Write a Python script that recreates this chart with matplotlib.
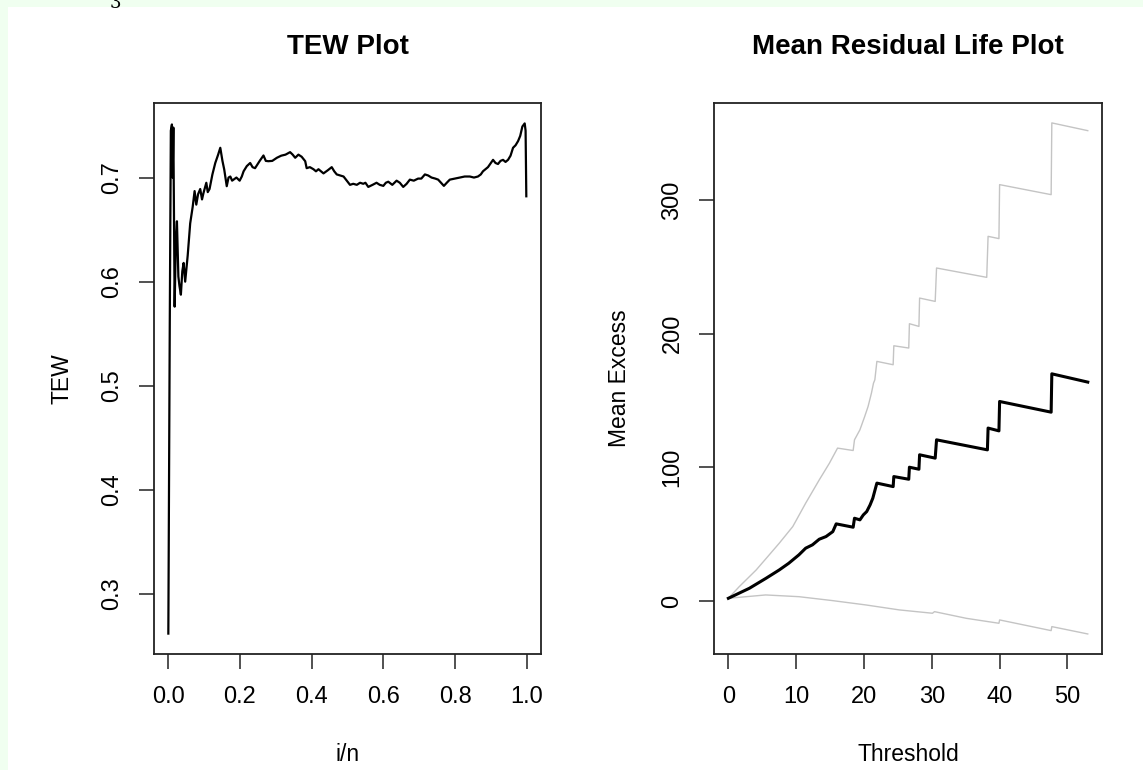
import numpy as np
import matplotlib
matplotlib.use("Agg")
import matplotlib.pyplot as plt
from matplotlib.patches import Rectangle

plt.rcParams['font.family'] = ['Liberation Sans', 'DejaVu Sans']

# TEW plot values
tew_x = [0.000, 0.004, 0.007, 0.010, 0.012, 0.014, 0.0176, 0.021, 0.024, 0.028, 0.031,
         0.035, 0.039, 0.0427, 0.047, 0.054, 0.061, 0.068, 0.0733, 0.078, 0.083, 0.089,
         0.094, 0.098, 0.106, 0.110, 0.115, 0.123, 0.131, 0.139, 0.145, 0.151, 0.156,
         0.163, 0.168, 0.173, 0.178, 0.182, 0.190, 0.199, 0.205, 0.210, 0.219, 0.2284,
         0.235, 0.242, 0.255, 0.2655, 0.272, 0.279, 0.290, 0.303, 0.315, 0.327, 0.3398,
         0.347, 0.354, 0.363, 0.372, 0.382, 0.386, 0.395, 0.405, 0.412, 0.419, 0.433,
         0.445, 0.456, 0.463, 0.470, 0.480, 0.489, 0.498, 0.507, 0.516, 0.526, 0.535,
         0.544, 0.550, 0.558, 0.570, 0.581, 0.590, 0.600, 0.607, 0.6138, 0.625, 0.637,
         0.646, 0.6555, 0.665, 0.674, 0.685, 0.697, 0.706, 0.716, 0.725, 0.7345, 0.745,
         0.753, 0.761, 0.769, 0.777, 0.7855, 0.800, 0.8134, 0.827, 0.8413, 0.853, 0.864,
         0.872, 0.878, 0.892, 0.9062, 0.913, 0.920, 0.927, 0.934, 0.941, 0.948, 0.955,
         0.962, 0.969, 0.976, 0.982, 0.988, 0.9945, 0.997, 0.999]
tew_y = [0.262, 0.560, 0.745, 0.751, 0.700, 0.748, 0.576, 0.640, 0.658, 0.605, 0.596,
         0.5875, 0.610, 0.618, 0.600, 0.625, 0.656, 0.672, 0.687, 0.674, 0.684, 0.689,
         0.679, 0.685, 0.695, 0.686, 0.689, 0.703, 0.714, 0.722, 0.7286, 0.716, 0.7077,
         0.6917, 0.700, 0.701, 0.697, 0.698, 0.700, 0.697, 0.701, 0.706, 0.711, 0.714,
         0.710, 0.709, 0.716, 0.7212, 0.716, 0.7157, 0.716, 0.719, 0.721, 0.722, 0.7244,
         0.722, 0.719, 0.722, 0.720, 0.7157, 0.709, 0.710, 0.708, 0.706, 0.708, 0.704,
         0.707, 0.710, 0.706, 0.703, 0.702, 0.701, 0.697, 0.693, 0.694, 0.693, 0.695,
         0.694, 0.695, 0.691, 0.693, 0.695, 0.693, 0.692, 0.695, 0.696, 0.693, 0.697,
         0.695, 0.691, 0.694, 0.698, 0.697, 0.699, 0.699, 0.703, 0.702, 0.700, 0.699,
         0.698, 0.695, 0.692, 0.695, 0.698, 0.699, 0.700, 0.701, 0.701, 0.700, 0.701,
         0.703, 0.706, 0.710, 0.717, 0.714, 0.713, 0.716, 0.717, 0.715, 0.717, 0.721,
         0.7286, 0.731, 0.735, 0.740, 0.749, 0.752, 0.745, 0.682]

# Mean residual life values
mrl_x = [0.0, 3.1, 5.56, 7.5, 8.9, 10.4, 11.4, 12.4, 13.4, 14.4, 15.4, 15.9, 18.4, 18.6,
         19.4, 19.9, 20.4, 20.9, 21.3, 21.9, 24.3, 24.4, 26.6, 26.7, 28.1, 28.2, 30.5,
         30.7, 38.2, 38.3, 39.9, 40.0, 47.6, 47.7, 53.0]
mrl_y = [2.0, 9.5, 17.0, 23.2, 28.2, 34.5, 39.5, 42.0, 46.2, 48.2, 51.9, 57.7, 55.2, 61.9,
         60.7, 64.4, 66.9, 71.9, 76.9, 88.2, 85.6, 93.1, 91.1, 100.1, 98.6, 109.4, 106.9,
         120.6, 113.1, 129.4, 127.3, 149.3, 141.3, 170.0, 163.8]

upper_x = [0.0, 1.6, 4.1, 5.6, 7.5, 9.5, 11.4, 13.4, 14.9, 16.1, 18.4, 18.6, 19.4, 20.1,
           20.6, 21.1, 21.4, 21.6, 21.9, 24.3, 24.4, 26.6, 26.7, 28.1, 28.2, 30.5, 30.7,
           38.1, 38.3, 39.9, 40.0, 47.6, 47.7, 53.0]
upper_y = [2.0, 10.7, 23.2, 32.0, 43.2, 55.7, 73.2, 90.6, 103.1, 114.4, 112.6, 120.6,
           128.1, 138.0, 145.5, 155.6, 163.0, 165.5, 179.3, 176.8, 191.0, 189.3, 207.5,
           205.5, 226.7, 224.2, 249.2, 242.2, 272.9, 271.2, 311.6, 304.1, 357.8, 352.0]

lower_x = [0.0, 5.5, 10.4, 15.3, 20.3, 25.2, 30.1, 30.4, 35.1, 39.9, 40.0, 47.6, 47.7, 53.0]
lower_y = [2.0, 4.5, 3.2, 0.3, -3.0, -6.7, -9.2, -8.0, -13.0, -16.7, -14.2, -22.2, -19.2,
           -24.7]

W, H = 1143, 770
fig = plt.figure(figsize=(W / 100, H / 100), dpi=100)
fig.patch.set_facecolor('#f0fff0')
fig.patches.append(Rectangle((8 / W, 0), 1, 1 - 7 / H, transform=fig.transFigure,
                             facecolor='white', edgecolor='none', zorder=-10))
# page number peeking in at the top edge, cut off like in the screenshot
fig.text(115 / W, 1 - 3 / H, '3', family='DejaVu Serif', fontsize=13, ha='center',
         va='center')

ax1 = fig.add_axes([154 / W, 1 - 654 / H, 387 / W, 551 / H])
ax2 = fig.add_axes([714 / W, 1 - 654 / H, 388 / W, 551 / H])

ax1.plot(tew_x, tew_y, color='black', lw=1.6)
ax1.set_xlim(-0.04, 1.04)
ax1.set_ylim(0.2424, 0.7716)
ax1.set_xticks([0.0, 0.2, 0.4, 0.6, 0.8, 1.0])
ax1.set_xticklabels(['0.0', '0.2', '0.4', '0.6', '0.8', '1.0'])
ax1.set_yticks([0.3, 0.4, 0.5, 0.6, 0.7])
ax1.set_yticklabels(['0.3', '0.4', '0.5', '0.6', '0.7'])

ax2.plot(upper_x, upper_y, color='#c4c4c4', lw=1.0)
ax2.plot(lower_x, lower_y, color='#c4c4c4', lw=1.0)
ax2.plot(mrl_x, mrl_y, color='black', lw=2.2)
ax2.set_xlim(-2.12, 55.1)
ax2.set_ylim(-39.7, 372.7)
ax2.set_xticks([0, 10, 20, 30, 40, 50])
ax2.set_yticks([0, 100, 200, 300])

for ax, title, xl, yl in [(ax1, 'TEW Plot', 'i/n', 'TEW'),
                          (ax2, 'Mean Residual Life Plot', 'Threshold', 'Mean Excess')]:
    ax.patch.set_alpha(0)
    for s in ax.spines.values():
        s.set_linewidth(1.3)
        s.set_color('#222222')
    ax.tick_params(length=11, width=1.2, color='#333333', labelsize=17)
    ax.tick_params(axis='x', pad=12)
    ax.tick_params(axis='y', pad=11)
    for lab in ax.get_yticklabels():
        lab.set_rotation(90)
        lab.set_va('center')
    ax.text(0.5, 1.1016, title, transform=ax.transAxes, ha='center', va='center',
            fontsize=20, fontweight='bold')
    ax.set_xlabel(xl, fontsize=16.5, va='center')
    ax.xaxis.set_label_coords(0.5, -0.183)
    ax.set_ylabel(yl, fontsize=16.5, va='center')

ax1.yaxis.set_label_coords((62 - 154) / 387, 0.5)
ax2.yaxis.set_label_coords((620 - 714) / 388, 0.5)

fig.savefig('out.png', dpi=100, facecolor=fig.get_facecolor())
